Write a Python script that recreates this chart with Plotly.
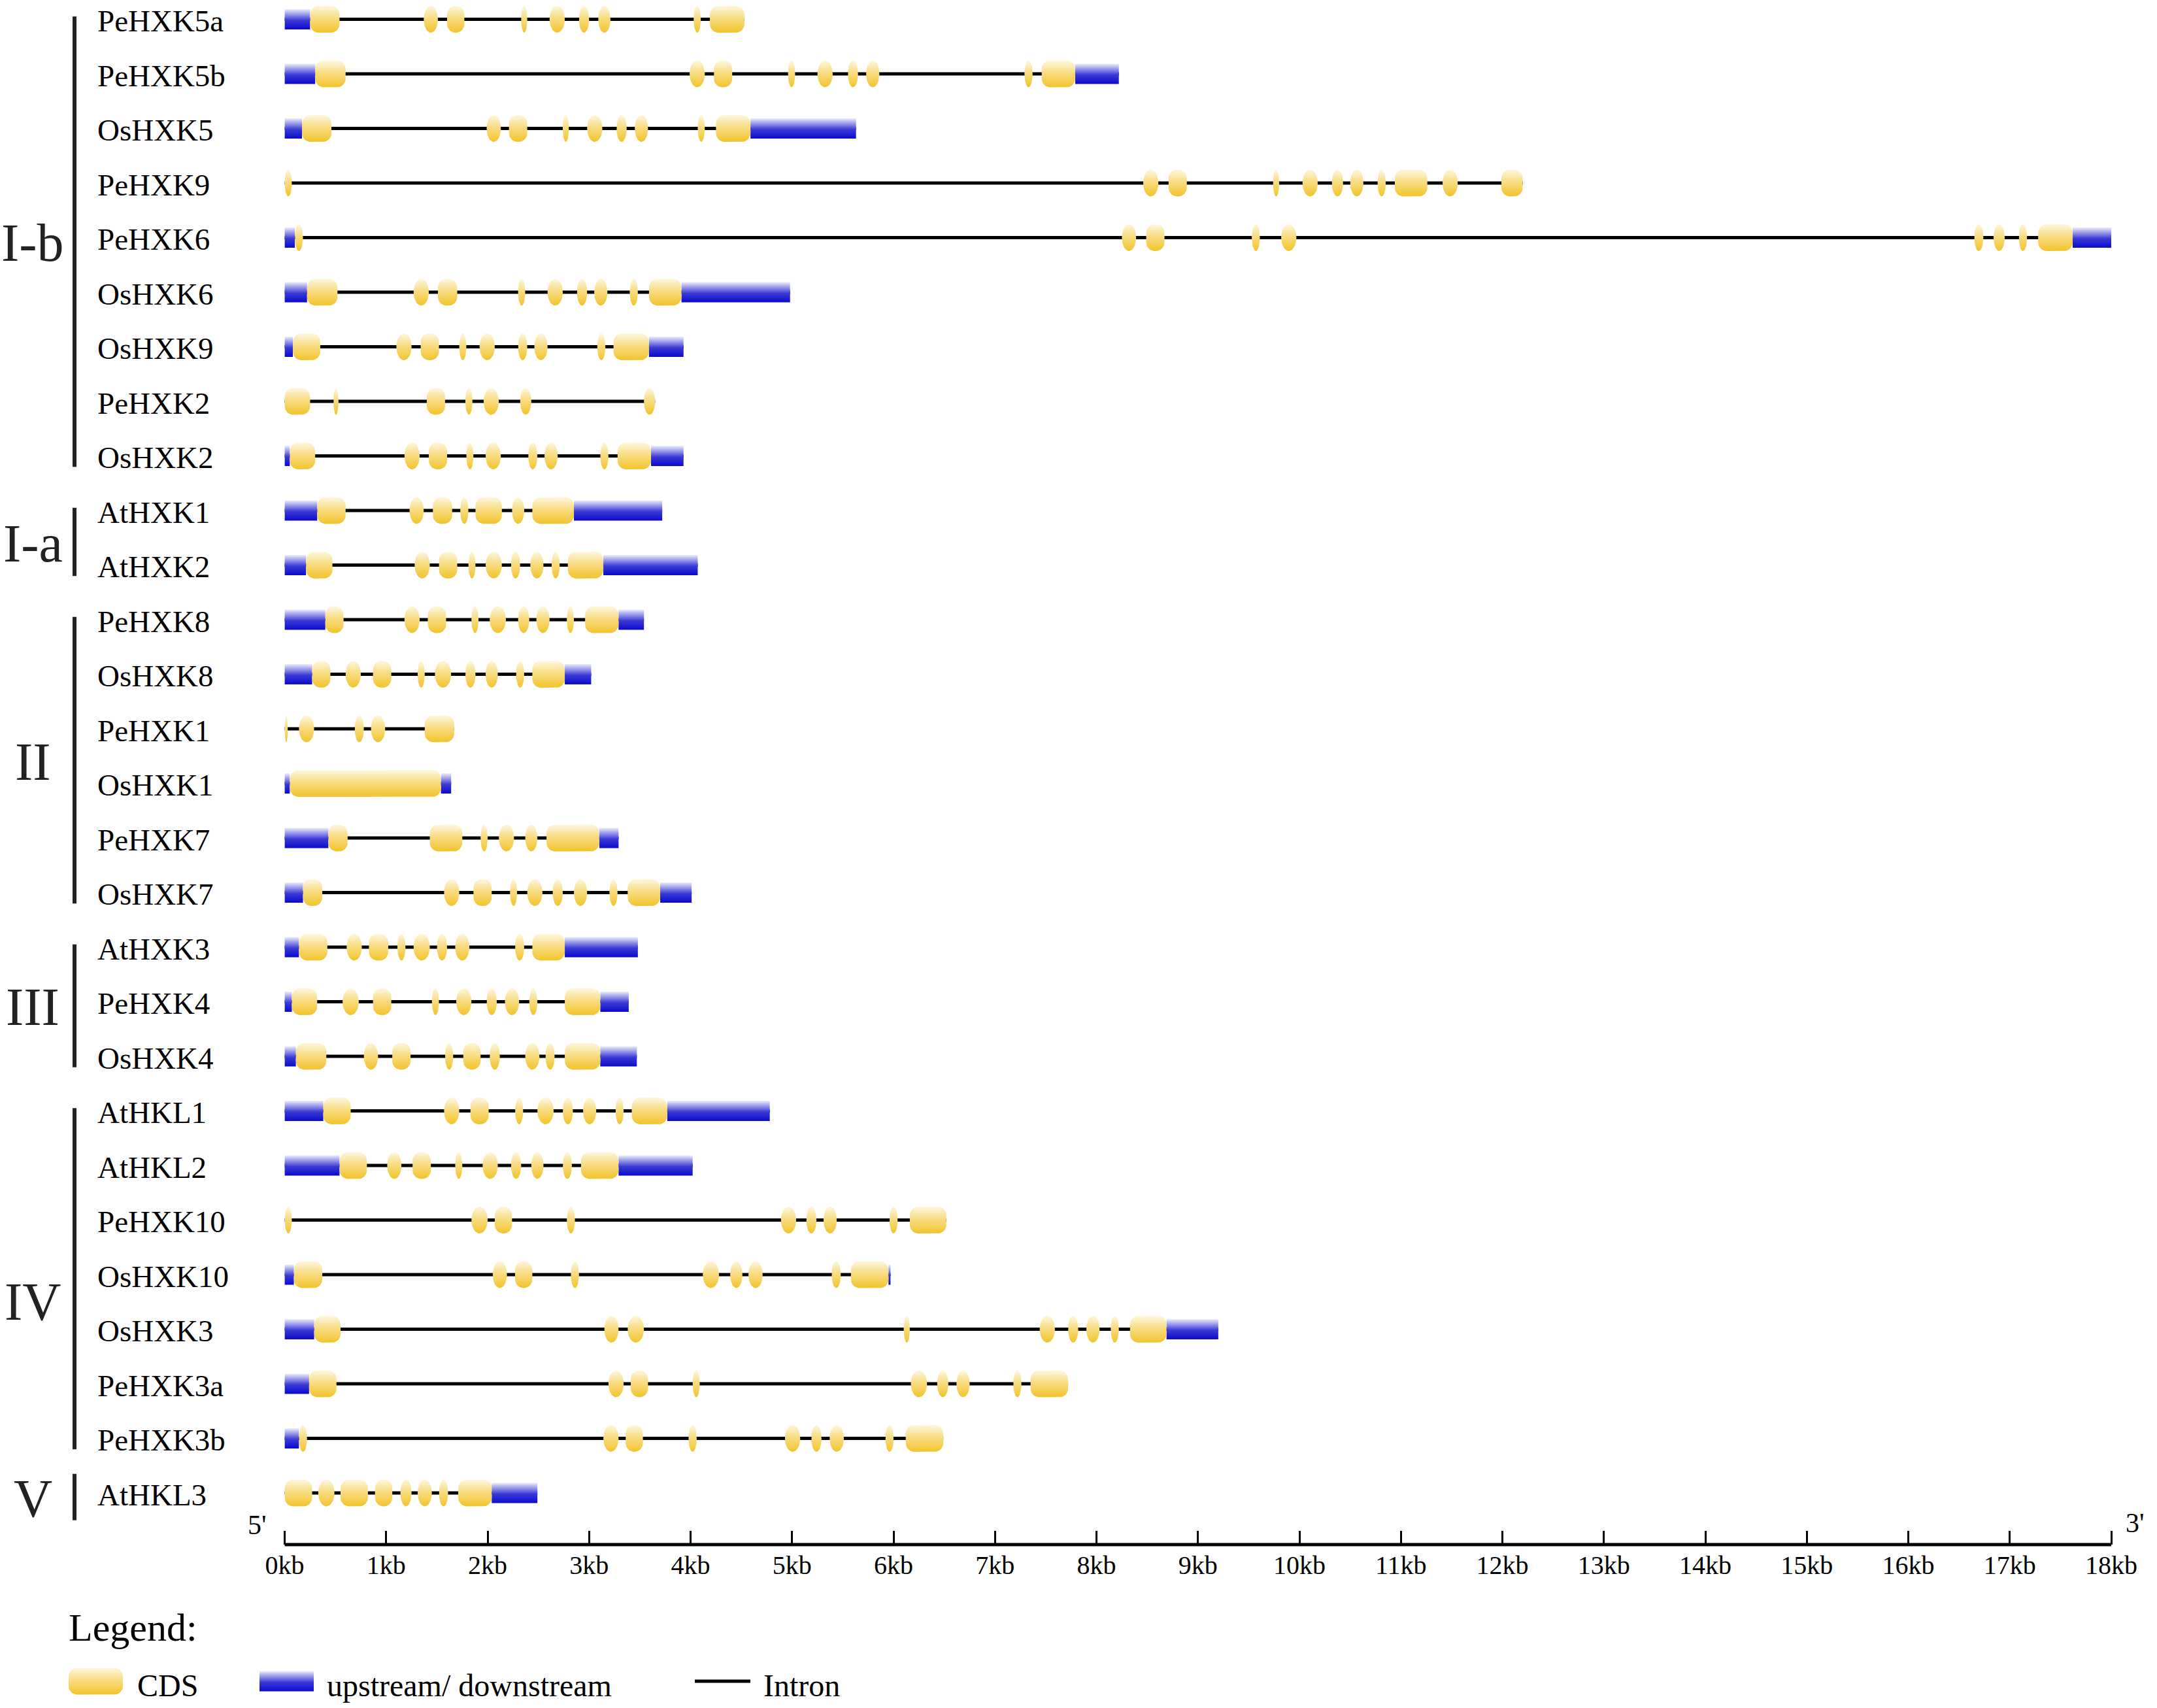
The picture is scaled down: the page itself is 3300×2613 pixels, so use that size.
import numpy as np
import plotly.graph_objects as go

# ---- data: gene structures (kb from 5' end), top to bottom ----
gene_names = ["PeHXK5a", "PeHXK5b", "OsHXK5", "PeHXK9", "PeHXK6", "OsHXK6", "OsHXK9", "PeHXK2", "OsHXK2",
              "AtHXK1", "AtHXK2",
              "PeHXK8", "OsHXK8", "PeHXK1", "OsHXK1", "PeHXK7", "OsHXK7",
              "AtHXK3", "PeHXK4", "OsHXK4",
              "AtHKL1", "AtHKL2", "PeHXK10", "OsHXK10", "OsHXK3", "PeHXK3a", "PeHXK3b",
              "AtHKL3"]
group_names = ["I-b", "I-a", "II", "III", "IV", "V"]
group_sizes = [9, 2, 6, 3, 7, 1]

# upstream / downstream regions
utr_kb = [
    [(0, 0.25)],                      # PeHXK5a
    [(0, 0.30), (7.79, 8.22)],        # PeHXK5b
    [(0, 0.17), (4.59, 5.63)],        # OsHXK5
    [],                               # PeHXK9
    [(0, 0.10), (17.62, 18.0)],       # PeHXK6
    [(0, 0.22), (3.91, 4.98)],        # OsHXK6
    [(0, 0.08), (3.59, 3.93)],        # OsHXK9
    [],                               # PeHXK2
    [(0, 0.05), (3.61, 3.93)],        # OsHXK2
    [(0, 0.32), (2.85, 3.72)],        # AtHXK1
    [(0, 0.21), (3.14, 4.07)],        # AtHXK2
    [(0, 0.40), (3.29, 3.54)],        # PeHXK8
    [(0, 0.27), (2.76, 3.02)],        # OsHXK8
    [],                               # PeHXK1
    [(0, 0.05), (1.54, 1.64)],        # OsHXK1
    [(0, 0.43), (3.10, 3.29)],        # PeHXK7
    [(0, 0.18), (3.70, 4.01)],        # OsHXK7
    [(0, 0.14), (2.76, 3.48)],        # AtHXK3
    [(0, 0.07), (3.11, 3.39)],        # PeHXK4
    [(0, 0.11), (3.11, 3.47)],        # OsHXK4
    [(0, 0.38), (3.77, 4.78)],        # AtHKL1
    [(0, 0.54), (3.29, 4.02)],        # AtHKL2
    [],                               # PeHXK10
    [(0, 0.09), (5.95, 5.97)],        # OsHXK10
    [(0, 0.29), (8.69, 9.20)],        # OsHXK3
    [(0, 0.24)],                      # PeHXK3a
    [(0, 0.14)],                      # PeHXK3b
    [(2.04, 2.49)],                   # AtHKL3
]

# coding exons
cds_kb = [
    [(0.25, 0.54), (1.37, 1.51), (1.60, 1.77), (2.33, 2.39), (2.61, 2.76), (2.90, 3.00), (3.09, 3.21), (4.03, 4.10), (4.19, 4.53)],
    [(0.30, 0.60), (3.99, 4.14), (4.23, 4.41), (4.96, 5.03), (5.25, 5.40), (5.55, 5.65), (5.73, 5.86), (7.29, 7.37), (7.46, 7.79)],
    [(0.17, 0.46), (1.99, 2.13), (2.21, 2.39), (2.74, 2.80), (2.98, 3.13), (3.27, 3.37), (3.45, 3.58), (4.07, 4.14), (4.25, 4.59)],
    [(0, 0.07), (8.46, 8.61), (8.71, 8.89), (9.74, 9.80), (10.03, 10.18), (10.32, 10.43), (10.50, 10.63), (10.77, 10.85), (10.94, 11.26), (11.41, 11.56), (11.99, 12.20)],
    [(0.10, 0.18), (8.25, 8.39), (8.49, 8.67), (9.53, 9.61), (9.82, 9.97), (16.65, 16.74), (16.84, 16.95), (17.09, 17.17), (17.28, 17.62)],
    [(0.22, 0.52), (1.27, 1.42), (1.51, 1.70), (2.30, 2.37), (2.59, 2.74), (2.88, 2.98), (3.05, 3.18), (3.40, 3.48), (3.59, 3.91)],
    [(0.08, 0.35), (1.10, 1.25), (1.34, 1.52), (1.72, 1.79), (1.92, 2.07), (2.30, 2.39), (2.46, 2.59), (3.08, 3.16), (3.24, 3.59)],
    [(0, 0.25), (0.48, 0.53), (1.40, 1.58), (1.78, 1.85), (1.96, 2.11), (2.32, 2.43), (3.54, 3.65)],
    [(0.05, 0.30), (1.18, 1.33), (1.42, 1.60), (1.79, 1.86), (1.98, 2.13), (2.40, 2.49), (2.56, 2.69), (3.11, 3.19), (3.28, 3.61)],
    [(0.32, 0.60), (1.23, 1.37), (1.46, 1.65), (1.73, 1.81), (1.88, 2.14), (2.24, 2.36), (2.44, 2.85)],
    [(0.21, 0.47), (1.28, 1.43), (1.52, 1.70), (1.81, 1.88), (1.98, 2.14), (2.23, 2.32), (2.42, 2.55), (2.63, 2.71), (2.79, 3.14)],
    [(0.40, 0.58), (1.18, 1.33), (1.41, 1.59), (1.84, 1.91), (2.02, 2.18), (2.30, 2.41), (2.48, 2.61), (2.78, 2.85), (2.96, 3.29)],
    [(0.27, 0.45), (0.60, 0.75), (0.87, 1.05), (1.31, 1.38), (1.48, 1.64), (1.78, 1.88), (1.98, 2.10), (2.28, 2.36), (2.44, 2.76)],
    [(0, 0.03), (0.14, 0.29), (0.69, 0.78), (0.85, 0.99), (1.38, 1.67)],
    [(0.05, 1.54)],
    [(0.43, 0.62), (1.43, 1.75), (1.93, 2.00), (2.11, 2.26), (2.37, 2.49), (2.58, 3.10)],
    [(0.18, 0.37), (1.57, 1.72), (1.86, 2.04), (2.22, 2.29), (2.39, 2.54), (2.64, 2.74), (2.85, 2.98), (3.20, 3.28), (3.38, 3.70)],
    [(0.14, 0.42), (0.61, 0.76), (0.83, 1.02), (1.11, 1.19), (1.27, 1.43), (1.50, 1.60), (1.68, 1.82), (2.27, 2.36), (2.44, 2.76)],
    [(0.07, 0.32), (0.57, 0.73), (0.87, 1.05), (1.45, 1.52), (1.69, 1.84), (1.99, 2.09), (2.17, 2.31), (2.41, 2.49), (2.76, 3.11)],
    [(0.11, 0.41), (0.78, 0.92), (1.06, 1.24), (1.58, 1.66), (1.76, 1.93), (2.02, 2.12), (2.37, 2.51), (2.57, 2.66), (2.76, 3.11)],
    [(0.38, 0.65), (1.57, 1.72), (1.83, 2.01), (2.27, 2.35), (2.49, 2.65), (2.74, 2.84), (2.94, 3.07), (3.26, 3.34), (3.42, 3.77)],
    [(0.54, 0.81), (1.01, 1.15), (1.26, 1.44), (1.68, 1.75), (1.95, 2.10), (2.23, 2.33), (2.43, 2.55), (2.74, 2.83), (2.92, 3.29)],
    [(0, 0.07), (1.84, 2.00), (2.07, 2.24), (2.78, 2.86), (4.89, 5.04), (5.14, 5.24), (5.31, 5.44), (5.96, 6.04), (6.16, 6.52)],
    [(0.09, 0.37), (2.05, 2.19), (2.27, 2.44), (2.82, 2.90), (4.12, 4.28), (4.39, 4.51), (4.57, 4.71), (5.39, 5.48), (5.58, 5.95)],
    [(0.29, 0.55), (3.15, 3.29), (3.38, 3.54), (6.10, 6.16), (7.44, 7.59), (7.72, 7.82), (7.90, 8.03), (8.14, 8.22), (8.33, 8.69)],
    [(0.24, 0.51), (3.19, 3.34), (3.41, 3.58), (4.02, 4.09), (6.17, 6.33), (6.43, 6.54), (6.62, 6.75), (7.18, 7.26), (7.35, 7.72)],
    [(0.14, 0.22), (3.14, 3.29), (3.36, 3.53), (3.98, 4.06), (4.93, 5.08), (5.19, 5.29), (5.37, 5.51), (5.92, 6.00), (6.12, 6.49)],
    [(0, 0.27), (0.33, 0.49), (0.55, 0.82), (0.89, 1.06), (1.14, 1.25), (1.31, 1.45), (1.52, 1.61), (1.71, 2.04)],
]

tick_kb = list(range(0, 19))
tick_labels = [f"{k}kb" for k in tick_kb]

# ---- layout constants (pixels) ----
W, H = 3300, 2613
X0_PX, X18_PX = 435.6, 3230.0
PX_PER_KB = (X18_PX - X0_PX) / 18
ROW0_PX, ROW_PX = 29.5, 83.5
AXIS_PX = 2363
CDS_H, UTR_H, CORNER = 41, 31, 13
FONT = "Liberation Serif, Times New Roman, serif"
YEL = [[0, "#F2C42C"], [0.55, "#F8DD84"], [1, "#FDF7E0"]]
BLU = [[0, "#0A0ACB"], [0.45, "#3A3AD6"], [1, "#EDEDFC"]]


def kb_at(px):
    return (px - X0_PX) / PX_PER_KB


def row_at(px):
    return (px - ROW0_PX) / ROW_PX


def rounded(x0, x1, yc, h):
    # rounded rectangle (ellipse when narrow), built in pixel space
    a = (x1 - x0) * PX_PER_KB / 2
    b = h / 2
    rx = min(CORNER, a)
    ry = CORNER if a > CORNER else b
    cx = (x0 + x1) / 2
    us, vs = [], []
    for sx, sy, t0 in [(1, 1, 0), (-1, 1, 90), (-1, -1, 180), (1, -1, 270)]:
        t = np.radians(np.linspace(t0, t0 + 90, 10))
        us += list(sx * (a - rx) + rx * np.cos(t))
        vs += list(sy * (b - ry) + ry * np.sin(t))
    xs = [cx + u / PX_PER_KB for u in us] + [None]
    ys = [yc - v / ROW_PX for v in vs] + [None]
    return xs, ys


def box(x0, x1, yc, h):
    hy = h / 2 / ROW_PX
    return [x0, x1, x1, x0, x0, None], [yc - hy, yc - hy, yc + hy, yc + hy, yc - hy, None]


def filled(xs, ys, yc, h, scale):
    hy = h / 2 / ROW_PX
    return go.Scatter(x=xs, y=ys, mode="lines", fill="toself", line=dict(width=0),
                      fillgradient=dict(type="vertical", colorscale=scale, start=yc + hy, stop=yc - hy),
                      hoverinfo="skip", showlegend=False)


fig = go.Figure()

# introns
ix, iy = [], []
for i in range(len(gene_names)):
    spans = cds_kb[i] + utr_kb[i]
    ix += [min(s for s, e in spans), max(e for s, e in spans), None]
    iy += [i, i, None]
fig.add_trace(go.Scatter(x=ix, y=iy, mode="lines", line=dict(color="black", width=5),
                         hoverinfo="skip", showlegend=False))

for i in range(len(gene_names)):
    if utr_kb[i]:
        xs, ys = [], []
        for s, e in utr_kb[i]:
            bx, by = box(s, e, i, UTR_H)
            xs += bx
            ys += by
        fig.add_trace(filled(xs, ys, i, UTR_H, BLU))
    xs, ys = [], []
    for s, e in cds_kb[i]:
        rx, ry = rounded(s, e, i, CDS_H)
        xs += rx
        ys += ry
    fig.add_trace(filled(xs, ys, i, CDS_H, YEL))

annotations = []
shapes = []

# gene names
for i, name in enumerate(gene_names):
    annotations.append(dict(x=kb_at(147), y=i + 0.03, text=name, showarrow=False, xanchor="left",
                            yanchor="middle", font=dict(family=FONT, size=47, color="black")))

# groups: bars and labels
first = 0
for g, n in zip(group_names, group_sizes):
    last = first + n - 1
    if n == 1:
        top, bot = first - 0.35, last + 0.5
    else:
        top, bot = first - 0.05, last + 0.2
    shapes.append(dict(type="line", x0=kb_at(114), x1=kb_at(114), y0=top, y1=bot,
                       line=dict(color="#222222", width=6)))
    mid = (first + last) / 2 + (0.5 if g == "IV" else 0.1)
    annotations.append(dict(x=kb_at(50), y=mid, text=g, showarrow=False, xanchor="center",
                            yanchor="middle", font=dict(family=FONT, size=82, color="#222222")))
    first = last + 1

# scale bar line
ay = row_at(AXIS_PX)
shapes.append(dict(type="line", x0=0, x1=18, y0=ay, y1=ay, line=dict(color="black", width=5)))
annotations.append(dict(x=kb_at(410), y=row_at(2333), text="5'", showarrow=False, xanchor="right",
                        yanchor="middle", font=dict(family=FONT, size=42, color="black")))
annotations.append(dict(x=kb_at(3250), y=row_at(2330), text="3'", showarrow=False, xanchor="left",
                        yanchor="middle", font=dict(family=FONT, size=42, color="black")))

# legend
leg_y = row_at(2572)
annotations.append(dict(x=kb_at(103), y=row_at(2490), text="Legend:", showarrow=False, xanchor="left",
                        yanchor="middle", font=dict(family=FONT, size=60, color="black")))
lx, ly = rounded(kb_at(105), kb_at(188), leg_y, CDS_H)
fig.add_trace(filled(lx, ly, leg_y, CDS_H, YEL))
bx, by = box(kb_at(397), kb_at(480), leg_y, UTR_H)
fig.add_trace(filled(bx, by, leg_y, UTR_H, BLU))
fig.add_trace(go.Scatter(x=[kb_at(1063), kb_at(1148)], y=[leg_y, leg_y], mode="lines",
                         line=dict(color="black", width=5), hoverinfo="skip", showlegend=False))
for px, txt in [(208, "CDS"), (498, "upstream/ downstream"), (1166, "Intron")]:
    annotations.append(dict(x=kb_at(px), y=leg_y + 0.08, text=txt, showarrow=False, xanchor="left",
                            yanchor="middle", font=dict(family=FONT, size=48, color="black")))

fig.update_layout(
    width=W, height=H, margin=dict(l=0, r=0, t=0, b=0),
    paper_bgcolor="white", plot_bgcolor="white", showlegend=False,
    annotations=annotations, shapes=shapes,
    xaxis=dict(range=[kb_at(0), kb_at(W)], showgrid=False, zeroline=False, showline=False,
               tickmode="array", tickvals=tick_kb, ticktext=tick_labels,
               ticks="inside", ticklen=21, tickwidth=3, tickcolor="black",
               anchor="free", position=1 - AXIS_PX / H, ticklabelstandoff=4,
               tickfont=dict(family=FONT, size=40, color="black")),
    yaxis=dict(range=[row_at(H), row_at(0)], visible=False),
)

# page body has a default margin; drop it so the figure sits at the window corner
fig.write_html("out.html", config={"displayModeBar": False},
               post_script="document.body.style.margin='0';")
